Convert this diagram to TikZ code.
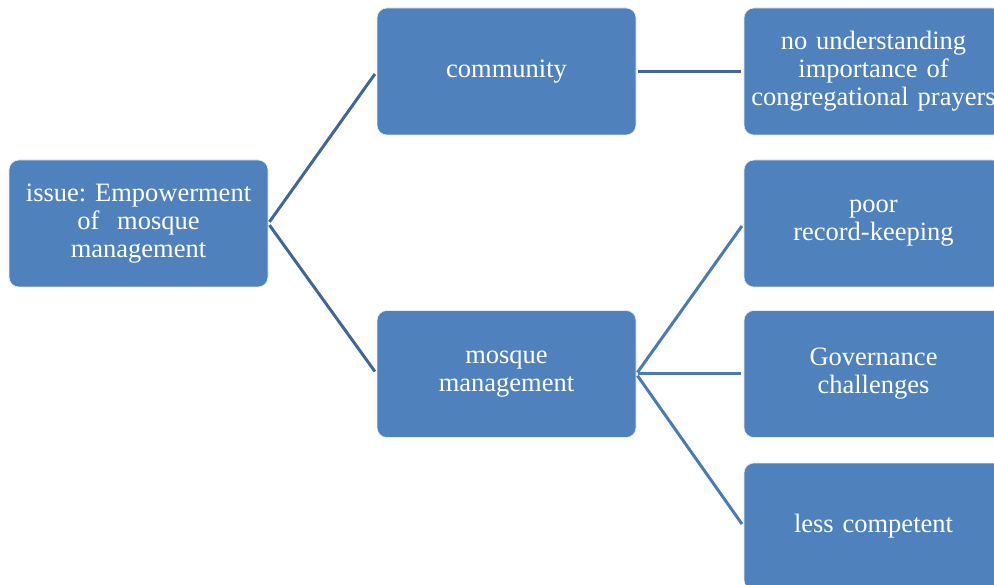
\documentclass[tikz,border=0pt]{standalone}
\usepackage{fontspec}
\setmainfont{Liberation Serif}
\definecolor{boxblue}{RGB}{79,129,189}
\definecolor{linedark}{RGB}{65,103,154}
\definecolor{linelight}{RGB}{74,123,183}
\begin{document}
\begin{tikzpicture}[x=1pt,y=-1pt,
  box/.style={rectangle, rounded corners=10pt, fill=boxblue, draw=white!85!boxblue, line width=0.6pt,
    minimum width=259pt, minimum height=127pt, text width=255pt, align=center, text=white,
    font=\frenchspacing\fontsize{26.5}{28}\selectfont, inner sep=0pt},
  conn/.style={line width=3pt, shorten <=2pt, shorten >=3pt}]
\useasboundingbox (0,0) rectangle (994,585);
\node[box] (root) at (138.5,223.5) {issue: Empowerment\\of\ \ mosque\\management};
\node[box] (comm) at (506.5,71.5) {community};
\node[box] (mm) at (506.5,374) {mosque\\management};
\node[box] (r1) at (873.5,71.5) {no understanding\\importance of\\congregational prayers};
\node[box] (r2) at (873.5,223.5) {poor\\record-keeping};
\node[box] (r3) at (873.5,374) {Governance\\challenges};
\node[box] (r4) at (873.5,526.5) {less competent};
\draw[conn, linedark] (root.east) -- (comm.west);
\draw[conn, linedark] (root.east) -- (mm.west);
\draw[conn, linedark] (comm.east) -- (r1.west);
\draw[conn, linelight] (mm.east) -- (r2.west);
\draw[conn, linelight] (mm.east) -- (r3.west);
\draw[conn, linelight] (mm.east) -- (r4.west);
\end{tikzpicture}
\end{document}
